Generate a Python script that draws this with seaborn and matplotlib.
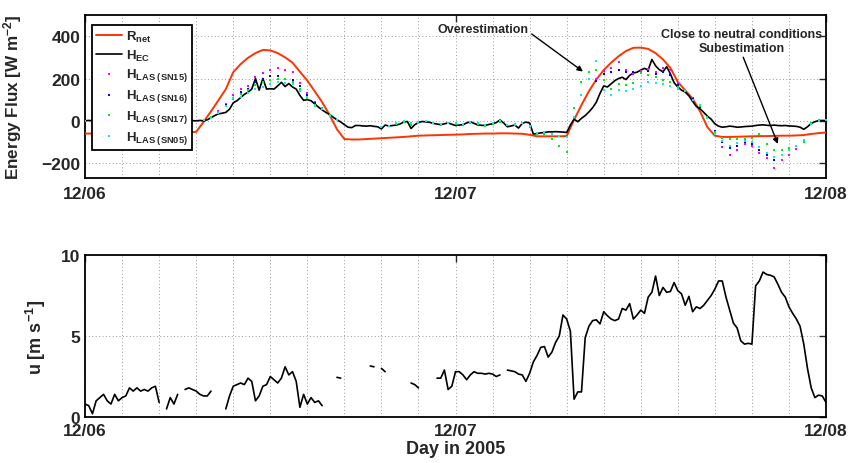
import numpy as np
import pandas as pd
import matplotlib
matplotlib.use("Agg")
import matplotlib.pyplot as plt
import seaborn as sns

N = np.nan

# ---------------- data ----------------
day_labels = ["12/06", "12/07", "12/08"]
day_pos = [0, 1, 2]

# H_EC sampled every 0.01 day from 12/06 00:00
h_ec = [0, 2, 0, -2, 1, 0, 2, -1, 0, 1,
        -1, 0, 2, 0, -1, 1, 0, 0, -2, 1,
        0, 2, 0, -1, 0, 1, 0, -1, 0, 1,
        0, 2, 0, 5, 15, 25, 33, 36, 40, 55,
        85, 95, 110, 125, 135, 150, 200, 145, 200, 150,
        152, 150, 165, 182, 162, 176, 160, 150, 120, 97,
        100, 95, 80, 65, 52, 40, 30, 17, 5, -5,
        -18, -30, -32, -22, -22, -24, -25, -23, -26, -28,
        -38, -20, -24, -22, -20, -15, -6, -3, -36, -18,
        -8, -3, -5, -7, -12, -15, -18, -14, -10, -16,
        -22, -20, -18, -10, -4, -12, -19, -21, -22, -17,
        -14, -8, 4, -10, -28, -24, -20, -34, -12, -6,
        -10, -62, -60, -57, -55, -52, -52, -51, -52, -53,
        -55, -20, 8, -4, 12, 25, 42, 62, 88, 130,
        165, 160, 175, 190, 200, 206, 195, 215, 226, 230,
        240, 248, 240, 290, 260, 242, 232, 256, 222, 180,
        160, 145, 136, 118, 92, 68, 57, 40, 22, 8,
        -14, -25, -30, -28, -25, -27, -30, -29, -27, -26,
        -25, -22, -20, -19, -21, -22, -20, -22, -23, -22,
        -24, -25, -26, -30, -40, -28, -12, -4, 1, 2,
        1]

# R_net sampled every 0.02 day
r_net = [-60, -60, -59, -59, -58, -58, -57, -57, -57, -56,
         -56, -56, -55, -55, -54, -52, -5, 45, 97, 150,
         230, 268, 298, 320, 335, 333, 320, 300, 275, 232,
         190, 140, 88, 28, -40, -86, -88, -88, -86, -84,
         -82, -80, -78, -76, -73, -70, -69, -68, -67, -66,
         -65, -64, -62, -61, -60, -60, -59, -59, -60, -61,
         -66, -73, -73, -73, -73, -72, 5, 75, 140, 195,
         240, 275, 305, 330, 345, 346, 340, 320, 290, 250,
         184, 144, 105, 45, -30, -70, -76, -76, -75, -74,
         -73, -72, -72, -71, -70, -70, -69, -67, -62, -58,
         -55]

# LAS sensible heat, every 0.02 day
las_sn15 = [0, N, N, N, N, N, N, N, N, N,
            N, N, N, N, N, N, 2, 20, 45, 80,
            120, 150, 165, 205, 225, 240, 250, 240, 232, 180,
            130, 90, 60, N, N, N, N, N, N, N,
            N, N, N, N, N, N, N, N, N, N,
            N, N, N, N, N, N, N, N, N, N,
            N, N, N, N, N, N, N, N, N, 200,
            235, 250, 280, 240, 220, 235, 245, 230, 248, 240,
            180, 140, 110, 70, 20, -60, -125, -160, -140, -110,
            -118, -150, -175, -225, -185, -160, -135, -100, N, N,
            N]
las_sn16 = [0, N, N, N, N, N, N, N, N, N,
            N, N, N, N, N, N, 0, 18, 40, 75,
            110, 135, 150, 185, 200, 210, 210, 200, 195, 165,
            120, 85, 55, N, N, N, N, N, N, N,
            N, N, N, N, N, N, N, N, N, N,
            N, N, N, N, N, N, N, N, N, N,
            N, N, N, N, N, N, N, N, N, 190,
            220, 232, 240, 230, 232, 225, 235, 220, 230, 215,
            170, 140, 105, 65, 15, -50, -100, -130, -120, -100,
            -110, -140, -160, -185, -160, -140, -120, -90, N, N,
            N]
las_sn17 = [0, N, N, N, N, N, N, N, N, N,
            N, N, N, N, N, N, 5, 20, 40, 70,
            105, 125, 144, 170, 184, 195, 200, 200, 185, 150,
            110, 75, 60, 30, N, N, N, N, N, N,
            N, N, -15, -5, -20, -8, -3, -10, -18, -12,
            -15, -18, -8, -15, -22, -15, -5, -20, -18, -12,
            -30, -62, -60, -85, -120, -148, 60, 185, 230, 240,
            192, 152, 175, 168, 180, 224, 215, 208, 195, 184,
            160, 144, 100, 70, 20, -54, -80, -86, -86, -86,
            -80, -62, -110, -140, -140, -130, -120, -100, -10, 2,
            3]
las_sn05 = [0, N, N, N, N, N, N, N, N, N,
            N, N, N, N, N, N, 2, 15, 35, 70,
            110, 115, 130, 150, 160, 175, 184, 180, 176, 140,
            115, 70, 55, 25, 5, N, N, N, N, N,
            -28, -22, -12, -2, -12, -5, 0, -8, -14, -10,
            -12, -15, -5, -12, -18, -12, 0, -18, -15, -8,
            -25, -58, -55, -60, -70, -75, 20, 120, 200, 285,
            144, 120, 144, 140, 152, 165, 184, 180, 176, 165,
            150, 140, 100, 75, 15, -60, -95, -120, -105, -95,
            -100, -125, -150, -170, -160, -140, -117, -90, -15, 0,
            2]

# wind speed every 0.01 day (NaN = missing)
wind_u = [0.8, 0.7, 0.2, 1.0, 1.2, 1.4, 1.0, 0.8, 1.4, 1.0,
          1.2, 1.3, 1.8, 1.6, 1.8, 1.6, 1.7, 1.6, 1.8, 1.9,
          0.9, N, 0.5, 1.2, 0.8, 1.4, N, 1.7, 1.8, 1.7,
          1.6, 1.4, 1.3, 1.3, 1.6, N, N, N, 0.5, 1.3,
          1.9, 2.0, 2.1, 2.0, 2.4, 2.2, 1.0, 1.3, 1.9, 2.0,
          2.5, 2.3, 2.1, 2.4, 3.1, 2.6, 2.8, 2.2, 0.6, 1.4,
          0.8, 1.2, 0.9, 1.0, 0.7, N, N, N, 2.45, 2.4,
          N, N, N, N, N, N, N, 3.15, 3.1, N,
          3.0, 2.8, N, N, N, N, N, N, 2.1, 2.0,
          1.8, N, N, N, N, 2.4, 2.4, 2.9, 1.7, 1.9,
          2.8, 2.8, 2.6, 2.3, 2.6, 2.8, 2.7, 2.7, 2.65, 2.7,
          2.65, 2.5, 2.6, N, 2.9, 2.85, 2.8, 2.65, 2.6, 2.2,
          2.7, 3.4, 3.8, 4.3, 4.35, 3.7, 4.0, 4.6, 5.0, 6.3,
          6.05, 5.3, 1.1, 1.55, 1.55, 4.9, 5.6, 5.95, 6.0, 5.75,
          6.5, 6.25, 6.05, 5.95, 6.05, 6.7, 6.6, 7.0, 6.05, 6.3,
          6.6, 6.4, 7.4, 7.7, 8.7, 7.5, 8.0, 7.7, 7.75, 8.3,
          7.8, 7.6, 6.9, 7.45, 6.5, 6.8, 6.7, 6.9, 7.2, 7.5,
          7.9, 8.4, 8.4, 7.4, 6.6, 5.8, 5.5, 4.7, 4.5, 4.55,
          4.5, 8.1, 8.4, 8.95, 8.8, 8.75, 8.65, 8.2, 7.7, 7.4,
          6.8, 6.4, 6.05, 5.6, 4.5, 3.0, 1.8, 1.2, 1.35, 1.3,
          0.9]

# ---------------- style ----------------
sns.set_style("white")
plt.rcParams["font.family"] = ["Liberation Sans", "DejaVu Sans"]
plt.rcParams["font.weight"] = "bold"
plt.rcParams["axes.labelweight"] = "bold"
plt.rcParams["mathtext.fontset"] = "custom"
plt.rcParams["mathtext.rm"] = "Liberation Sans:bold"
plt.rcParams["mathtext.bf"] = "Liberation Sans:bold"
plt.rcParams["mathtext.it"] = "Liberation Sans:bold"
plt.rcParams["mathtext.default"] = "bf"

t_fine = np.linspace(0, 2, len(h_ec))
t_coarse = np.linspace(0, 2, len(r_net))

fig = plt.figure(figsize=(8.52, 4.64), dpi=100)
ax1 = fig.add_axes([0.0998, 0.6142, 0.8697, 0.3513])
ax2 = fig.add_axes([0.0998, 0.0991, 0.8697, 0.3491])

red = "#ff3300"

sns.lineplot(x=t_coarse, y=r_net, color=red, lw=1.4, ax=ax1, label=r"R$_{net}$", zorder=3)
sns.lineplot(x=t_fine, y=h_ec, color="black", lw=1.2, ax=ax1, label=r"H$_{EC}$", zorder=4)
for vals, col, lab in [(las_sn15, "#ff00ff", r"H$_{LAS\ (SN15)}$"),
                       (las_sn16, "#0000ff", r"H$_{LAS\ (SN16)}$"),
                       (las_sn17, "#00ee00", r"H$_{LAS\ (SN17)}$"),
                       (las_sn05, "#00eeee", r"H$_{LAS\ (SN05)}$")]:
    sns.scatterplot(x=t_coarse, y=vals, color=col, marker="s", s=4, linewidth=0,
                    ax=ax1, label=lab, zorder=5)

# wind with gaps
wu = np.array(wind_u, dtype=float)
valid = ~np.isnan(wu)
starts = valid & ~np.r_[False, valid[:-1]]
seg = np.cumsum(starts)
dfw = pd.DataFrame({"t": t_fine, "u": wu, "seg": seg})[valid]
sns.lineplot(data=dfw, x="t", y="u", units="seg", estimator=None, color="black",
             lw=1.2, ax=ax2)

for ax in (ax1, ax2):
    ax.set_xlim(0, 2)
    ax.set_xticks(day_pos)
    ax.set_xticklabels(day_labels, fontsize=12.5, fontweight="bold")
    ax.set_xticks(np.arange(0, 2.01, 0.1), minor=True)
    ax.tick_params(axis="x", which="minor", length=0)
    ax.tick_params(axis="both", which="major", direction="in", length=5, width=1,
                   top=True, right=True, labelsize=12.5)
    ax.tick_params(axis="x", which="major", pad=6)
    ax.grid(True, which="both", axis="x", color="#999999", linestyle=(0, (1, 2.5)), lw=0.7)
    ax.grid(True, which="major", axis="y", color="#999999", linestyle=(0, (1, 2.5)), lw=0.7)
    for sp in ax.spines.values():
        sp.set_linewidth(1.3)
        sp.set_color("black")
    for lbl in ax.get_yticklabels():
        lbl.set_fontweight("bold")

ax1.set_ylim(-270, 500)
ax1.set_yticks([-200, 0, 200, 400])
ax1.set_ylabel(r"Energy Flux [W m$^{-2}$]", fontsize=12.3, fontweight="bold")
ax1.yaxis.set_label_coords(-0.083, 0.5)
ax1.set_xlabel("")

ax2.set_ylim(0, 10)
ax2.set_yticks([0, 5, 10])
ax2.set_ylabel(r"u [m s$^{-1}$]", fontsize=13, fontweight="bold")
ax2.yaxis.set_label_coords(-0.05, 0.5)
ax2.set_xlabel("Day in 2005", fontsize=13, fontweight="bold", labelpad=2)
ax2.tick_params(axis="x", which="major", pad=4)

leg = ax1.legend(loc="upper left", bbox_to_anchor=(0.0094, 0.939), borderaxespad=0,
                 fontsize=9.5, frameon=True, fancybox=False, edgecolor="black",
                 framealpha=1, handlelength=2.0, handletextpad=0.25, labelspacing=0.28,
                 markerscale=0.8, borderpad=0.3)
leg.get_frame().set_linewidth(1.3)
leg.set_zorder(10)

ax1.annotate("Overestimation", xy=(1.344, 233), xytext=(1.074, 433),
             ha="center", va="center", fontsize=9, fontweight="bold",
             arrowprops=dict(arrowstyle="-|>", color="black", lw=1.0,
                             shrinkA=0, shrinkB=0, mutation_scale=8,
                             relpos=(1.0, 0.3)), zorder=11)
ax1.annotate("Close to neutral conditions\nSubestimation", xy=(1.870, -109),
             xytext=(1.773, 377), ha="center", va="center", fontsize=9,
             fontweight="bold", multialignment="center", linespacing=1.2,
             arrowprops=dict(arrowstyle="-|>", color="black", lw=1.0,
                             shrinkA=0, shrinkB=0, mutation_scale=8,
                             relpos=(0.5, 0.0)), zorder=11)

fig.savefig("out.png", dpi=100)
